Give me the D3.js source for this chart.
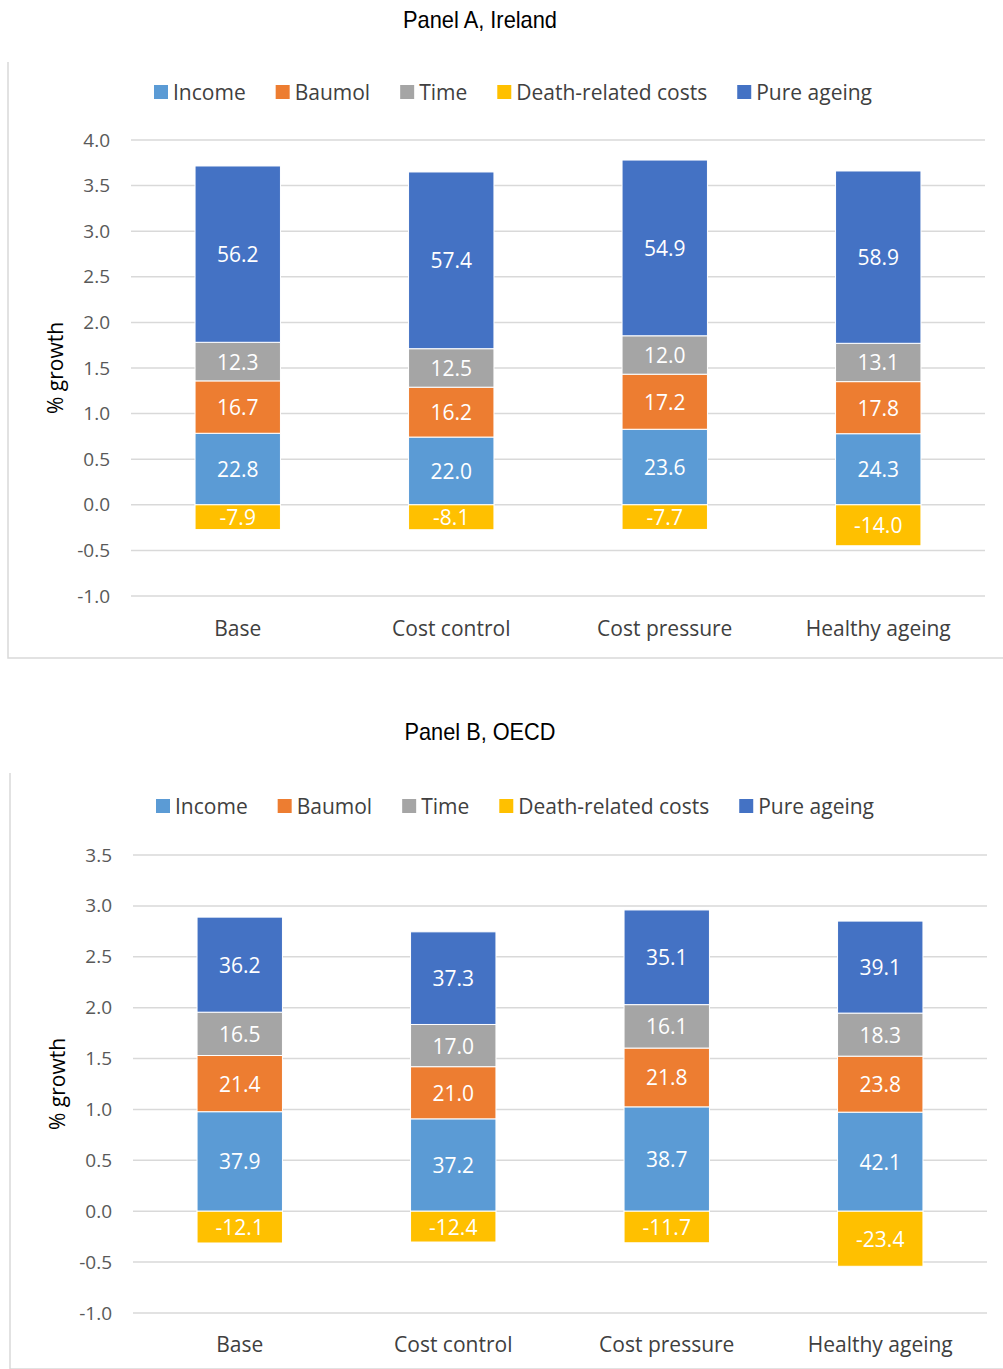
<!DOCTYPE html>
<html>
<head>
<meta charset="utf-8">
<script src="https://cdn.jsdelivr.net/npm/d3@7"></script>
<style>
  html, body { margin: 0; padding: 0; background: #fff; }
  svg { display: block; }
</style>
</head>
<body>
<svg id="chart" width="1003" height="1369"></svg>
<script>
// Drivers of health spending growth, by scenario
const scenarios = ["Base", "Cost control", "Cost pressure", "Healthy ageing"];
const components = ["Income", "Baumol", "Time", "Death-related costs", "Pure ageing"];
const colours = ["#5B9BD5", "#ED7D31", "#A5A5A5", "#FFC000", "#4472C4"];

// Total annual growth (% growth) per scenario
const irelandTotal = [3.44, 3.376, 3.51, 3.208];
const oecdTotal = [2.58, 2.44, 2.65, 2.312];

// Contribution of each component, as a share (%) of total growth
const irelandIncome = [22.8, 22.0, 23.6, 24.3];
const irelandBaumol = [16.7, 16.2, 17.2, 17.8];
const irelandTime = [12.3, 12.5, 12.0, 13.1];
const irelandDeath = [-7.9, -8.1, -7.7, -14.0];
const irelandPure = [56.2, 57.4, 54.9, 58.9];

const oecdIncome = [37.9, 37.2, 38.7, 42.1];
const oecdBaumol = [21.4, 21.0, 21.8, 23.8];
const oecdTime = [16.5, 17.0, 16.1, 18.3];
const oecdDeath = [-12.1, -12.4, -11.7, -23.4];
const oecdPure = [36.2, 37.3, 35.1, 39.1];

const irelandTicks = [-1.0, -0.5, 0.0, 0.5, 1.0, 1.5, 2.0, 2.5, 3.0, 3.5, 4.0];
const oecdTicks = [-1.0, -0.5, 0.0, 0.5, 1.0, 1.5, 2.0, 2.5, 3.0, 3.5];

const FONT = "'Open Sans', 'Noto Sans', sans-serif";
const TITLE_FONT = "'Liberation Sans', Arial, sans-serif";

// One decimal, plain hyphen for negatives
const fmt = v => v.toFixed(1);

const svg = d3.select("#chart");

function drawPanel(cfg) {
  const g = svg.append("g");

  // Title (condensed face)
  g.append("text")
    .attr("x", cfg.titleX).attr("y", cfg.titleY)
    .attr("text-anchor", "middle")
    .attr("font-family", TITLE_FONT)
    .attr("font-size", 24)
    .attr("textLength", cfg.titleWidth)
    .attr("lengthAdjust", "spacingAndGlyphs")
    .attr("fill", "#000")
    .text(cfg.title);

  // Chart area frame (left and bottom edges)
  g.append("path")
    .attr("d", `M${cfg.frame.x},${cfg.frame.top}V${cfg.frame.bottom}H1003`)
    .attr("fill", "none")
    .attr("stroke", "#D9D9D9")
    .attr("stroke-width", 1.5);

  // Rows of data: one object per scenario, segment value = share * total
  const rows = scenarios.map((s, i) => {
    const row = { scenario: s };
    components.forEach((c, j) => {
      row[c] = cfg.shares[j][i] / 100 * cfg.total[i];
      row[c + "_share"] = cfg.shares[j][i];
    });
    return row;
  });

  const x = d3.scaleBand()
    .domain(scenarios)
    .range([cfg.plot.x0, cfg.plot.x1])
    .paddingInner(0.6)
    .paddingOuter(0.3);

  const y = d3.scaleLinear()
    .domain([cfg.ticks[0], cfg.ticks[cfg.ticks.length - 1]])
    .range([cfg.plot.y0, cfg.plot.y1]);

  // Gridlines
  g.append("g")
    .selectAll("line")
    .data(cfg.ticks)
    .join("line")
    .attr("x1", cfg.plot.x0).attr("x2", cfg.plot.x1)
    .attr("y1", d => y(d)).attr("y2", d => y(d))
    .attr("stroke", "#D9D9D9")
    .attr("stroke-width", 1.5);

  // Y axis tick labels
  const yAxis = d3.axisLeft(y)
    .tickValues(cfg.ticks)
    .tickFormat(fmt)
    .tickSize(0)
    .tickPadding(0);
  const ya = g.append("g")
    .attr("transform", `translate(${cfg.plot.x0 - 21},0)`)
    .call(yAxis);
  ya.select(".domain").remove();
  ya.selectAll("text")
    .attr("font-family", FONT)
    .attr("font-size", 19)
    .attr("fill", "#595959");

  // Y axis title
  g.append("text")
    .attr("transform", `translate(${cfg.yTitleX},${(y(cfg.ticks[0]) + y(cfg.ticks[cfg.ticks.length - 1])) / 2}) rotate(-90)`)
    .attr("text-anchor", "middle")
    .attr("dominant-baseline", "central")
    .attr("font-family", FONT)
    .attr("font-size", 21)
    .attr("fill", "#000")
    .text("% growth");

  // Category labels
  const xAxis = d3.axisBottom(x).tickSize(0).tickPadding(0);
  const xa = g.append("g")
    .attr("transform", `translate(0,${cfg.catY})`)
    .call(xAxis);
  xa.select(".domain").remove();
  xa.selectAll("text")
    .attr("dy", null)
    .attr("dominant-baseline", "central")
    .attr("font-family", FONT)
    .attr("font-size", 21)
    .attr("fill", "#404040");

  // Stacked bars
  const stack = d3.stack()
    .keys(components)
    .offset(d3.stackOffsetDiverging);
  const series = stack(rows);

  const layers = g.append("g")
    .selectAll("g")
    .data(series)
    .join("g")
    .attr("fill", d => colours[components.indexOf(d.key)]);

  layers.selectAll("rect")
    .data(d => d.map(v => ({ key: d.key, v })))
    .join("rect")
    .attr("x", d => x(d.v.data.scenario))
    .attr("width", x.bandwidth())
    .attr("y", d => y(Math.max(d.v[0], d.v[1])))
    .attr("height", d => Math.abs(y(d.v[0]) - y(d.v[1])))
    .attr("stroke", "#fff")
    .attr("stroke-width", 1);

  layers.selectAll("text")
    .data(d => d.map(v => ({ key: d.key, v })))
    .join("text")
    .attr("x", d => x(d.v.data.scenario) + x.bandwidth() / 2)
    .attr("y", d => y((d.v[0] + d.v[1]) / 2))
    .attr("text-anchor", "middle")
    .attr("dominant-baseline", "central")
    .attr("font-family", FONT)
    .attr("font-size", 21)
    .attr("fill", "#fff")
    .text(d => fmt(d.v.data[d.key + "_share"]));

  // Legend
  const legend = g.append("g").attr("transform", `translate(${cfg.legendX},${cfg.legendY})`);
  let lx = 0;
  components.forEach((c, i) => {
    const item = legend.append("g").attr("transform", `translate(${lx},0)`);
    item.append("rect")
      .attr("x", 0).attr("y", -7)
      .attr("width", 14).attr("height", 14)
      .attr("fill", colours[i]);
    const t = item.append("text")
      .attr("x", 19).attr("y", 0)
      .attr("dominant-baseline", "central")
      .attr("font-family", FONT)
      .attr("font-size", 21)
      .attr("fill", "#404040")
      .text(c);
    lx += 19 + t.node().getComputedTextLength() + 30;
  });
}

drawPanel({
  title: "Panel A, Ireland",
  titleX: 480, titleY: 28, titleWidth: 154,
  frame: { x: 8, top: 62, bottom: 658 },
  plot: { x0: 131, x1: 985, y0: 596, y1: 140 },
  ticks: irelandTicks,
  total: irelandTotal,
  shares: [irelandIncome, irelandBaumol, irelandTime, irelandDeath, irelandPure],
  yTitleX: 55,
  catY: 628,
  legendX: 154, legendY: 92
});

drawPanel({
  title: "Panel B, OECD",
  titleX: 480, titleY: 740, titleWidth: 151,
  frame: { x: 10, top: 773, bottom: 1369 },
  plot: { x0: 133, x1: 987, y0: 1313, y1: 855 },
  ticks: oecdTicks,
  total: oecdTotal,
  shares: [oecdIncome, oecdBaumol, oecdTime, oecdDeath, oecdPure],
  yTitleX: 57,
  catY: 1344,
  legendX: 156, legendY: 806
});
</script>
</body>
</html>
